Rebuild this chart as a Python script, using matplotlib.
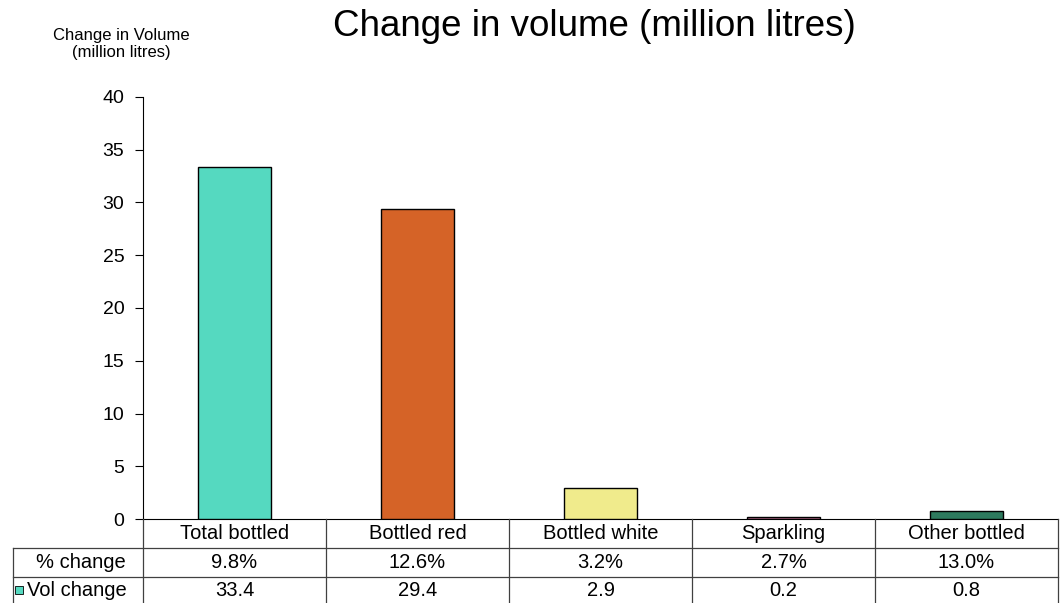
import matplotlib
matplotlib.use("Agg")
import matplotlib.pyplot as plt
from matplotlib.transforms import blended_transform_factory
from matplotlib.patches import Rectangle

plt.rcParams['font.family'] = ['Liberation Sans', 'DejaVu Sans']

categories = ["Total bottled", "Bottled red", "Bottled white", "Sparkling", "Other bottled"]
vol_change = [33.4, 29.4, 2.9, 0.2, 0.8]
pct_change = ["9.8%", "12.6%", "3.2%", "2.7%", "13.0%"]
bar_colors = ["#55D9C0", "#D56327", "#F0EB8C", "#C06A8E", "#2E7A5E"]
yticks = [0, 5, 10, 15, 20, 25, 30, 35, 40]

W, H = 1060, 603
fig = plt.figure(figsize=(W / 100, H / 100), dpi=100)

# plot area in pixel coordinates
x0, x1 = 143, 1058
y_top, y_zero = 97, 519
ax = fig.add_axes([x0 / W, 1 - y_zero / H, (x1 - x0) / W, (y_zero - y_top) / H])

xs = list(range(len(categories)))
ax.bar(xs, vol_change, width=0.4, color=bar_colors, edgecolor="black", linewidth=1.0, zorder=3)
ax.set_xlim(-0.5, len(categories) - 0.5)
ax.set_ylim(0, 40)
ax.set_yticks(yticks)
ax.set_yticklabels([str(t) for t in yticks], fontsize=14)
ax.tick_params(axis="y", direction="out", length=5.5, width=0.8, pad=8)
ax.set_xticks([])
for s in ["top", "right"]:
    ax.spines[s].set_visible(False)
ax.spines["left"].set_linewidth(0.8)
ax.spines["bottom"].set_linewidth(0.8)


def fy(py):
    return 1 - py / H


fig.text(594 / W, fy(36), "Change in volume (million litres)", fontsize=26.5,
         ha="center", va="baseline")
fig.text(121 / W, fy(44), "Change in Volume\n(million litres)", fontsize=12,
         ha="center", va="center", linespacing=1.2)

# data table below the axis
tr = blended_transform_factory(ax.transData, fig.transFigure)
row_lines = [519, 548, 577, 603]
left_col = 13

line_kw = dict(color="#404040", linewidth=0.9, clip_on=False)
# horizontal lines
for py in row_lines[1:3]:
    fig.add_artist(plt.Line2D([left_col / W, x1 / W], [fy(py), fy(py)], **line_kw))
# outer and column edges
fig.add_artist(plt.Line2D([left_col / W, left_col / W], [fy(548), fy(603)], **line_kw))
fig.add_artist(plt.Line2D([x0 / W, x0 / W], [fy(519), fy(603)], **line_kw))
fig.add_artist(plt.Line2D([x1 / W, x1 / W], [fy(519), fy(603)], **line_kw))
for i in range(len(categories) - 1):
    fig.add_artist(plt.Line2D([i + 0.5, i + 0.5], [fy(519), fy(603)],
                              transform=tr, **line_kw))

row_centers = [(row_lines[k] + row_lines[k + 1]) / 2 for k in range(3)]
fs = 14.5
for i, cat in enumerate(categories):
    fig.text(i, fy(row_centers[0]), cat, transform=tr, ha="center", va="center", fontsize=fs)
    fig.text(i, fy(row_centers[1]), pct_change[i], transform=tr, ha="center", va="center", fontsize=fs)
    fig.text(i, fy(row_centers[2]), f"{vol_change[i]:.1f}", transform=tr, ha="center", va="center", fontsize=fs)

fig.text(81 / W, fy(row_centers[1]), "% change", ha="center", va="center", fontsize=fs)
fig.text(27 / W, fy(row_centers[2]), "Vol change", ha="left", va="center", fontsize=fs)
fig.add_artist(Rectangle((15 / W, fy(row_centers[2] + 4)), 8 / W, 8 / H,
                         transform=fig.transFigure, facecolor=bar_colors[0],
                         edgecolor="black", linewidth=0.6))

fig.savefig("out.png", dpi=100, facecolor="white")
